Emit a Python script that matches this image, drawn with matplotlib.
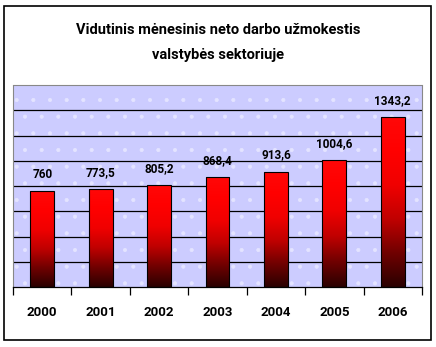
import matplotlib.pyplot as plt
import numpy as np
from matplotlib.colors import LinearSegmentedColormap
from matplotlib.patches import Rectangle

# data
years = ['2000', '2001', '2002', '2003', '2004', '2005', '2006']
wages = [760, 773.5, 805.2, 868.4, 913.6, 1004.6, 1343.2]
labels = ['760', '773,5', '805,2', '868,4', '913,6', '1004,6', '1343,2']

plt.rcParams['font.family'] = ['Roboto', 'DejaVu Sans']
plt.rcParams['hatch.color'] = '#e4e4ff'
plt.rcParams['hatch.linewidth'] = 0.5

fig = plt.figure(figsize=(4.36, 3.47), dpi=100)
fig.patches.append(Rectangle((4 / 436, 7 / 347), 427 / 436, 334 / 347, transform=fig.transFigure,
                             fill=False, edgecolor='black', linewidth=1.2))

ax = fig.add_axes([13 / 436, 60 / 347, 409 / 436, 202 / 347])
ax.set_facecolor('#ccccff')
ax.add_patch(Rectangle((0, 0), 1, 1, transform=ax.transAxes, facecolor='none',
                       edgecolor='#e4e4ff', hatch='.', linewidth=0, zorder=0))

x = np.arange(len(years))
bars = ax.bar(x, wages, width=0.41, color='none', edgecolor='black', linewidth=0.8, zorder=3)

# vertical gradient, bright red on top to dark maroon at the bottom
cmap = LinearSegmentedColormap.from_list('redfade', ['#2a0000', '#700000', '#c00000', '#f00000', '#ff0000', '#ff0808'])
grad = np.linspace(0, 1, 256).reshape(-1, 1)
for b in bars:
    x0, w, h = b.get_x(), b.get_width(), b.get_height()
    im = ax.imshow(grad, cmap=cmap, aspect='auto', origin='lower',
                   extent=[x0, x0 + w, 0, h], zorder=2)
    im.set_clip_path(b)

for xi, v, lab in zip(x, wages, labels):
    ax.annotate(lab, (xi, v), xytext=(0, 12), textcoords='offset points',
                ha='center', va='center', fontsize=8.5, fontweight='bold')

ax.set_xlim(-0.5, 6.5)
ax.set_ylim(0, 1600)
ax.set_yticks(np.arange(200, 1600, 200))
ax.yaxis.grid(True, color='black', linewidth=0.9)
ax.set_axisbelow(True)
ax.tick_params(axis='y', left=False, labelleft=False)

ax.set_xticks(np.arange(-0.5, 7, 1))
ax.set_xticklabels([])
ax.set_xticks(x, minor=True)
ax.set_xticklabels(years, minor=True, fontsize=9.5, fontweight='bold')
ax.tick_params(axis='x', which='major', direction='out', length=6, width=0.9, color='black')
ax.tick_params(axis='x', which='minor', length=0, pad=14)

for side in ['top', 'left', 'right']:
    ax.spines[side].set_color('#888888')
    ax.spines[side].set_linestyle((0, (1, 1)))
    ax.spines[side].set_linewidth(0.8)
ax.spines['bottom'].set_color('black')
ax.spines['bottom'].set_linewidth(0.9)

fig.text(0.5, 1 - 30 / 347, 'Vidutinis mėnesinis neto darbo užmokestis',
         ha='center', va='center', fontsize=10.5, fontweight='bold')
fig.text(0.5, 1 - 55 / 347, 'valstybės sektoriuje',
         ha='center', va='center', fontsize=10.5, fontweight='bold')

fig.savefig('out.png', dpi=100)
